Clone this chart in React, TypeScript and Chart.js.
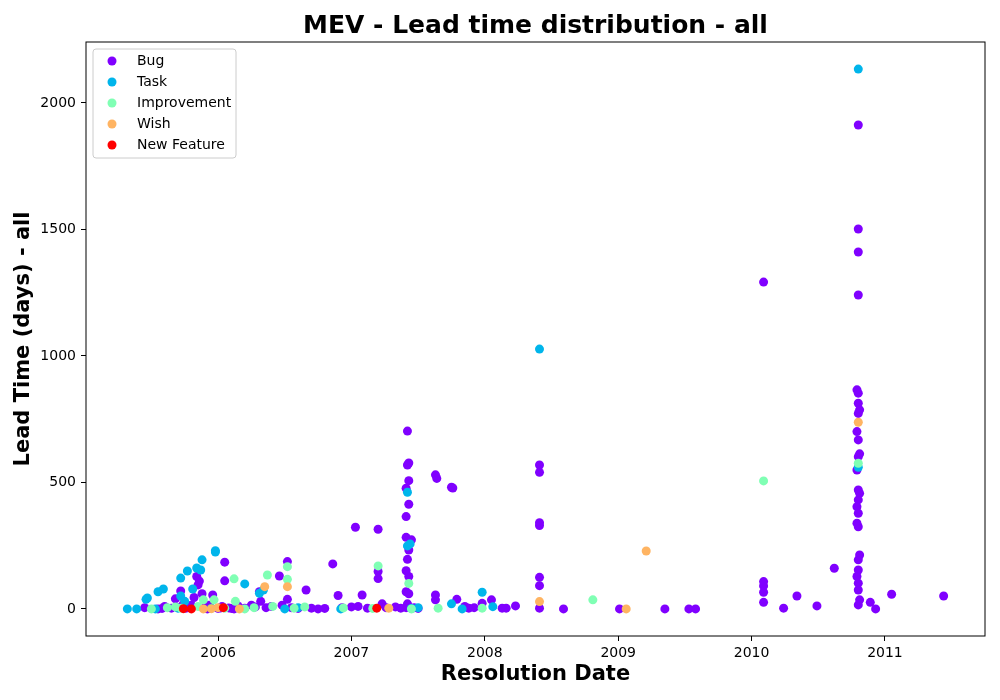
import React, { useEffect, useRef } from "react";
import { Chart, registerables } from "chart.js";

Chart.register(...registerables);

// dates are decimal years, values are lead time in days
const bugDates = [
  2005.45, 2005.55, 2005.6, 2005.65, 2005.68, 2005.72, 2005.74, 2005.78, 2005.82, 2005.84,
  2005.85, 2005.86, 2005.88, 2005.9, 2005.93, 2005.96, 2006.0, 2006.03, 2006.05, 2006.05,
  2006.08, 2006.12, 2006.15, 2006.2, 2006.25, 2006.28, 2006.31, 2006.32, 2006.36, 2006.4,
  2006.46, 2006.48, 2006.52, 2006.52, 2006.55, 2006.6, 2006.66, 2006.7, 2006.75, 2006.8,
  2006.86, 2006.9, 2006.93, 2007.0, 2007.03, 2007.05, 2007.08, 2007.12, 2007.2, 2007.2,
  2007.2, 2007.23, 2007.26, 2007.33, 2007.37,
  2007.42, 2007.42, 2007.43, 2007.43, 2007.41, 2007.43, 2007.41, 2007.41, 2007.45, 2007.43,
  2007.42, 2007.41, 2007.43, 2007.41, 2007.43, 2007.42, 2007.41,
  2007.47, 2007.5, 2007.63, 2007.64, 2007.63, 2007.63, 2007.75, 2007.76, 2007.79, 2007.85,
  2007.88, 2007.92, 2007.98, 2008.05, 2008.13, 2008.16, 2008.23,
  2008.41, 2008.41, 2008.41, 2008.41, 2008.41, 2008.41, 2008.41,
  2008.59, 2009.01, 2009.35, 2009.53, 2009.58,
  2010.09, 2010.09, 2010.09, 2010.09, 2010.09, 2010.24, 2010.34, 2010.49, 2010.62,
  2010.8, 2010.8, 2010.8, 2010.8, 2010.79, 2010.8, 2010.8, 2010.81, 2010.8, 2010.79,
  2010.8, 2010.81, 2010.8, 2010.79, 2010.8, 2010.81, 2010.8, 2010.79, 2010.8, 2010.79,
  2010.8, 2010.81, 2010.8, 2010.8, 2010.79, 2010.8, 2010.8, 2010.81, 2010.8,
  2010.89, 2010.93, 2011.05, 2011.44,
  2005.58, 2005.7, 2005.76, 2005.8, 2005.92, 2006.02, 2006.1,
];
const bugDays = [
  5, 0, 10, 3, 40, 71, 20, 8, 45, 128,
  95, 110, 60, 5, 15, 55, 2, 10, 185, 111,
  4, 0, 12, 3, 15, 8, 68, 30, 5, 10,
  130, 15, 187, 38, 5, 2, 75, 3, 0, 2,
  178, 53, 5, 8, 323, 10, 55, 3, 315, 148,
  120, 20, 5, 8, 3,
  703, 569, 577, 507, 477, 414, 365, 283, 273, 233,
  196, 151, 128, 68, 60, 20, 5,
  5, 2, 530, 516, 55, 36, 481, 478, 38, 10,
  3, 5, 22, 36, 3, 3, 12,
  569, 540, 341, 330, 125, 92, 3,
  0, 0, 0, 0, 0,
  1292, 108, 91, 66, 26, 3, 51, 12, 161,
  1913, 1502, 1411, 1241, 866, 853, 813, 787, 773, 701,
  668, 613, 602, 549, 470, 457, 431, 404, 378, 339,
  325, 213, 194, 154, 128, 102, 75, 36, 16,
  26, 0, 58, 51,
  2, 5, 3, 15, 0, 4, 2,
];

const taskDates = [
  2005.32, 2005.39, 2005.47, 2005.46, 2005.55, 2005.59, 2005.72, 2005.72, 2005.77, 2005.81,
  2005.84, 2005.87, 2005.88, 2005.98, 2005.98, 2005.75, 2005.95, 2006.2, 2006.31, 2006.34,
  2006.5, 2006.6, 2006.92, 2007.42, 2007.42, 2007.44, 2007.45, 2007.5, 2007.75, 2007.83,
  2007.98, 2008.06, 2008.41, 2010.8, 2010.8, 2005.53, 2005.7,
];
const taskDays = [
  0, 0, 43, 38, 68, 79, 51, 122, 150, 79,
  162, 154, 194, 230, 225, 30, 3, 99, 62, 75,
  0, 5, 0, 461, 249, 257, 2, 5, 20, 0,
  66, 9, 1027, 2134, 560, 0, 3,
];

const improvementDates = [
  2005.5, 2005.62, 2005.68, 2005.72, 2005.89, 2005.97, 2005.85, 2006.12, 2006.13, 2006.27,
  2006.37, 2006.41, 2006.52, 2006.52, 2006.57, 2006.65, 2006.94, 2007.16, 2007.2, 2007.43,
  2007.45, 2007.65, 2007.98, 2008.81, 2010.09, 2010.8, 2006.2, 2006.05,
];
const improvementDays = [
  0, 5, 8, 3, 36, 36, 10, 119, 30, 5,
  134, 10, 167, 117, 3, 8, 4, 2, 170, 101,
  0, 3, 3, 36, 506, 576, 0, 3,
];

const wishDates = [2005.89, 2005.95, 2006.16, 2006.35, 2006.52, 2007.28, 2008.41, 2009.21, 2009.06, 2010.8, 2006.0];
const wishDays = [0, 1, 0, 88, 88, 3, 29, 229, 0, 738, 5];

const featureDates = [2005.74, 2005.8, 2006.04, 2007.19];
const featureDays = [1, 0, 5, 3];

const seriesNames = ["Bug", "Task", "Improvement", "Wish", "New Feature"];
const seriesColors = ["#8000ff", "#00b5eb", "#80ffb4", "#ffb462", "#ff0000"];
const seriesDates = [bugDates, taskDates, improvementDates, wishDates, featureDates];
const seriesDays = [bugDays, taskDays, improvementDays, wishDays, featureDays];

const yearTicks = [2006, 2007, 2008, 2009, 2010, 2011];
const dayTicks = [0, 500, 1000, 1500, 2000];

const chartTitle = "MEV - Lead time distribution - all";
const FONT = "DejaVu Sans";

// matplotlib-style legend box in the upper left of the axes
const insideLegend = {
  id: "insideLegend",
  afterDraw(chart: Chart) {
    const { ctx, chartArea } = chart;
    const x = chartArea.left + 7;
    const y = chartArea.top + 7;
    const w = 143;
    const h = 109;
    ctx.save();
    ctx.beginPath();
    ctx.roundRect(x, y, w, h, 3);
    ctx.fillStyle = "rgba(255,255,255,0.8)";
    ctx.fill();
    ctx.strokeStyle = "#cccccc";
    ctx.lineWidth = 1;
    ctx.stroke();
    ctx.font = `14px "${FONT}"`;
    ctx.textBaseline = "middle";
    seriesNames.forEach((name, i) => {
      const cy = y + 12 + i * 21;
      ctx.beginPath();
      ctx.arc(x + 19, cy, 4.5, 0, Math.PI * 2);
      ctx.fillStyle = seriesColors[i];
      ctx.fill();
      ctx.fillStyle = "#000";
      ctx.fillText(name, x + 44, cy);
    });
    ctx.restore();
  },
};

// black frame around the plot area, and the title centred over it
const frame = {
  id: "frame",
  afterDatasetsDraw(chart: Chart) {
    const { ctx, chartArea } = chart;
    ctx.save();
    ctx.strokeStyle = "#000";
    ctx.lineWidth = 1;
    ctx.strokeRect(chartArea.left, chartArea.top, chartArea.right - chartArea.left, chartArea.bottom - chartArea.top);
    ctx.font = `bold 25px "${FONT}"`;
    ctx.fillStyle = "#000";
    ctx.textAlign = "center";
    ctx.textBaseline = "middle";
    ctx.fillText(chartTitle, (chartArea.left + chartArea.right) / 2, 26);
    ctx.restore();
  },
};

export default function App() {
  const chartRef = useRef<HTMLCanvasElement | null>(null);
  const chartInstanceRef = useRef<Chart | null>(null);

  useEffect(() => {
    if (!chartRef.current) return;
    const ctx = chartRef.current.getContext("2d");
    if (!ctx) return;

    if (chartInstanceRef.current) {
      chartInstanceRef.current.destroy();
    }

    chartInstanceRef.current = new Chart(ctx, {
      type: "scatter",
      data: {
        datasets: seriesNames.map((name, i) => ({
          label: name,
          data: seriesDates[i].map((d, j) => ({ x: d, y: seriesDays[i][j] })),
          backgroundColor: seriesColors[i],
          borderWidth: 0,
          pointRadius: 4.5,
          order: seriesNames.length - i,
        })),
      },
      options: {
        animation: false,
        responsive: true,
        maintainAspectRatio: false,
        layout: { padding: { left: 0, right: 15, top: 42, bottom: 0 } },
        plugins: {
          legend: { display: false },
          tooltip: { enabled: false },
          title: { display: false },
        },
        scales: {
          x: {
            type: "linear",
            min: 2005.01,
            max: 2011.75,
            afterBuildTicks: (scale: any) => {
              scale.ticks = yearTicks.map((v) => ({ value: v }));
            },
            afterFit: (scale: any) => {
              scale.height = 64;
            },
            ticks: {
              color: "#000",
              font: { family: FONT, size: 14 },
              padding: 4,
              maxRotation: 0,
              callback: (v: any) => String(v),
            },
            grid: { drawOnChartArea: false, drawTicks: true, tickLength: 5, color: "#000" },
            border: { display: false },
            title: {
              display: true,
              text: "Resolution Date",
              color: "#000",
              font: { family: FONT, size: 21, weight: "bold" },
              padding: { top: 4, bottom: 13 },
            },
          },
          y: {
            type: "linear",
            min: -107,
            max: 2241,
            afterBuildTicks: (scale: any) => {
              scale.ticks = dayTicks.map((v) => ({ value: v }));
            },
            afterFit: (scale: any) => {
              scale.width = 86;
            },
            ticks: {
              color: "#000",
              font: { family: FONT, size: 14 },
              padding: 5,
              callback: (v: any) => String(v),
            },
            grid: { drawOnChartArea: false, drawTicks: true, tickLength: 5, color: "#000" },
            border: { display: false },
            title: {
              display: true,
              text: "Lead Time (days) - all",
              color: "#000",
              font: { family: FONT, size: 21, weight: "bold" },
              padding: { top: 11, bottom: 4 },
            },
          },
        },
      },
      plugins: [frame, insideLegend],
    });

    return () => {
      if (chartInstanceRef.current) {
        chartInstanceRef.current.destroy();
        chartInstanceRef.current = null;
      }
    };
  }, []);

  return (
    <div style={{ position: "fixed", left: 0, top: 0, width: 1000, height: 700, background: "#fff" }}>
      <canvas ref={chartRef} />
    </div>
  );
}
